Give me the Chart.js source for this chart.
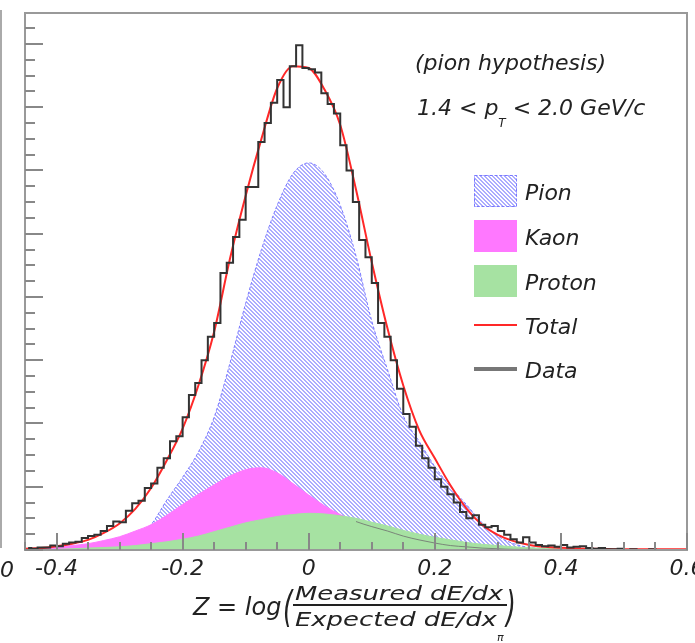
<!DOCTYPE html>
<html lang="en">
<head>
<meta charset="UTF-8">
<title>Z distribution - pion hypothesis</title>
<script src="https://cdn.jsdelivr.net/npm/chart.js"></script>
<style>
  body { margin: 0; background: #fff; }
</style>
</head>
<body>
<canvas id="zplot" width="695" height="643"></canvas>
<script>
  // x grid of the fitted curves (step 0.025 from -0.45 to 0.6)
  const curveX = [];
  for (let i = 0; i <= 42; i++) curveX.push(+(-0.45 + i * 0.025).toFixed(3));

  const pion = [0, 0, 0.005, 0.01, 0.02, 0.04, 0.08, 0.18, 0.40, 0.79, 1.15, 1.55, 2.10, 2.95, 3.90, 4.75,
    5.45, 5.95, 6.12, 5.95, 5.45, 4.65, 3.62, 2.85, 2.12, 1.72, 1.32, 1.00, 0.72, 0.43, 0.22, 0.10,
    0.04, 0.02, 0.01, 0, 0, 0, 0, 0, 0, 0, 0];
  const kaon = [0.01, 0.02, 0.045, 0.07, 0.10, 0.15, 0.21, 0.30, 0.40, 0.55, 0.72, 0.88, 1.03, 1.17, 1.27, 1.30,
    1.22, 1.05, 0.87, 0.70, 0.56, 0.45, 0.37, 0.30, 0.22, 0.16, 0.11, 0.07, 0.05, 0.03, 0.02, 0.01,
    0.01, 0.005, 0, 0, 0, 0, 0, 0, 0, 0, 0];
  const proton = [0.005, 0.008, 0.01, 0.02, 0.03, 0.04, 0.05, 0.07, 0.10, 0.13, 0.17, 0.22, 0.29, 0.36, 0.43, 0.48,
    0.53, 0.56, 0.58, 0.57, 0.54, 0.50, 0.44, 0.38, 0.31, 0.25, 0.20, 0.16, 0.12, 0.09, 0.07, 0.05,
    0.035, 0.025, 0.015, 0.01, 0.005, 0, 0, 0, 0, 0, 0];
  const total = [0.02, 0.03, 0.06, 0.10, 0.16, 0.27, 0.42, 0.65, 0.98, 1.42, 1.92, 2.60, 3.45, 4.60, 5.60, 6.50,
    7.30, 7.65, 7.62, 7.28, 6.72, 5.70, 4.55, 3.50, 2.60, 1.90, 1.45, 1.02, 0.66, 0.40, 0.24, 0.14,
    0.08, 0.05, 0.035, 0.025, 0.02, 0.015, 0.01, 0.01, 0.01, 0.01, 0.01];

  // measured histogram, 0.01 wide bins starting at -0.45
  const binStart = -0.45, binWidth = 0.01;
  const counts = [0.03, 0.02, 0.04, 0.04, 0.07, 0.06, 0.10, 0.12, 0.13, 0.19,
    0.22, 0.24, 0.30, 0.38, 0.45, 0.44, 0.62, 0.74, 0.78, 0.98,
    1.05, 1.30, 1.45, 1.72, 1.80, 2.10, 2.45, 2.64, 3.00, 3.37,
    3.59, 4.38, 4.54, 4.95, 5.22, 5.74, 5.74, 6.45, 6.75, 7.07,
    7.43, 7.00, 7.65, 7.98, 7.62, 7.60, 7.55, 7.22, 7.05, 6.90,
    6.40, 6.00, 5.50, 4.90, 4.63, 4.22, 3.59, 3.37, 3.00, 2.55,
    2.15, 1.95, 1.65, 1.45, 1.30, 1.12, 1.00, 0.88, 0.75, 0.60,
    0.50, 0.55, 0.40, 0.36, 0.38, 0.30, 0.24, 0.17, 0.12, 0.20,
    0.12, 0.08, 0.06, 0.07, 0.05, 0.08, 0.04, 0.05, 0.06, 0.03,
    0.02, 0.03, 0.01, 0.01, 0.02, 0, 0.01, 0, 0, 0.01,
    0, 0, 0, 0, 0];

  const xTickLabels = [-0.4, -0.2, 0, 0.2, 0.4, 0.6];
  const xMinorStep = 0.05;
  const yMajorStep = 1, yMinorStep = 0.25;

  const textFont = 'italic 22px "DejaVu Sans"';

  function pts(arr) {
    return arr.map((v, i) => ({ x: curveX[i], y: v }));
  }
  const histPts = counts.map((v, i) => ({ x: binStart + (i + 0.5) * binWidth, y: v }));

  // hatched fill for the pion component
  const tile = document.createElement('canvas');
  tile.width = 4; tile.height = 4;
  const tc = tile.getContext('2d');
  tc.fillStyle = '#fff';
  tc.fillRect(0, 0, 4, 4);
  tc.fillStyle = 'rgb(172,172,255)';
  for (let i = 0; i < 4; i++) {
    tc.fillRect(i, i, 1, 1);
    tc.fillRect((i + 1) % 4, i, 1, 1);
  }
  const hatch = tc.createPattern(tile, 'repeat');

  const pionColor = 'rgb(120,120,255)';
  const kaonColor = 'rgb(255,120,255)';
  const protonColor = 'rgb(166,226,162)';
  const totalColor = 'rgb(255,40,40)';
  const dataColor = '#333';

  const rootFrame = {
    id: 'rootFrame',
    afterDatasetsDraw(chart) {
      const ctx = chart.ctx;
      const a = chart.chartArea;
      const xs = chart.scales.x, ys = chart.scales.y;
      ctx.save();
      ctx.strokeStyle = '#999';
      ctx.lineWidth = 2;
      ctx.strokeRect(a.left, a.top, a.right - a.left, a.bottom - a.top);
      ctx.strokeStyle = '#888';
      ctx.beginPath();
      // x ticks, pointing up into the frame
      for (let v = -0.45; v <= 0.6001; v += xMinorStep) {
        const val = Math.round(v * 100) / 100;
        const major = xTickLabels.some(t => Math.abs(t - val) < 1e-6);
        const px = Math.round(xs.getPixelForValue(val));
        ctx.moveTo(px, a.bottom);
        ctx.lineTo(px, a.bottom - (major ? 17 : 8));
      }
      // y ticks, pointing right into the frame
      for (let v = 0; v <= ys.max + 1e-6; v += yMinorStep) {
        const major = Math.abs(v / yMajorStep - Math.round(v / yMajorStep)) < 1e-6;
        const py = Math.round(ys.getPixelForValue(v));
        ctx.moveTo(a.left, py);
        ctx.lineTo(a.left + (major ? 18 : 10), py);
      }
      ctx.stroke();
      // edge of the neighbouring pad
      ctx.strokeStyle = '#aaa';
      ctx.beginPath();
      ctx.moveTo(1, 10);
      ctx.lineTo(1, 548);
      ctx.stroke();
      ctx.restore();
    },
    afterDraw(chart) {
      const ctx = chart.ctx;
      ctx.save();
      ctx.fillStyle = '#222';
      ctx.font = textFont;
      ctx.textBaseline = 'alphabetic';
      ctx.textAlign = 'left';

      // y axis zero label of the left pad
      ctx.fillText('0', 0, 577);

      // annotations
      ctx.fillText('(pion hypothesis)', 415, 70);
      let x = 417;
      ctx.fillText('1.4 < p', x, 115);
      x += ctx.measureText('1.4 < p').width;
      ctx.font = 'italic 12px "DejaVu Sans"';
      ctx.fillText('T', x, 127);
      x += ctx.measureText('T').width;
      ctx.font = textFont;
      ctx.fillText(' < 2.0 GeV/c', x, 115);

      // legend
      const ds = chart.data.datasets;
      const find = l => ds.find(d => d.label === l);
      const rows = [
        { label: 'Pion', kind: 'box', y: 175 },
        { label: 'Kaon', kind: 'box', y: 220 },
        { label: 'Proton', kind: 'box', y: 265 },
        { label: 'Total', kind: 'line', y: 325, w: 2 },
        { label: 'Data', kind: 'line', y: 369, w: 4 }
      ];
      rows.forEach(r => {
        const d = find(r.label);
        if (r.kind === 'box') {
          ctx.fillStyle = d.backgroundColor;
          ctx.fillRect(474, r.y, 43, 32);
          if (d.borderDash) {
            ctx.strokeStyle = d.borderColor;
            ctx.lineWidth = 1;
            ctx.setLineDash([3, 2]);
            ctx.strokeRect(474.5, r.y + 0.5, 42, 31);
            ctx.setLineDash([]);
          }
          ctx.fillStyle = '#222';
          ctx.fillText(r.label, 525, r.y + 25);
        } else {
          ctx.strokeStyle = r.label === 'Data' ? '#777' : d.borderColor;
          ctx.lineWidth = r.w;
          ctx.beginPath();
          ctx.moveTo(474, r.y);
          ctx.lineTo(517, r.y);
          ctx.stroke();
          ctx.fillStyle = '#222';
          ctx.fillText(r.label, 525, r.y + 9);
        }
      });

      // x axis title: Z = log( Measured dE/dx / Expected dE/dx_pi )
      ctx.fillStyle = '#222';
      ctx.font = 'italic 24px "DejaVu Sans"';
      ctx.fillText('Z = log', 193, 615);
      const big = (ch, px) => {
        ctx.save();
        ctx.translate(px, 622);
        ctx.scale(0.6, 1);
        ctx.font = 'italic 42px "DejaVu Sans"';
        ctx.fillText(ch, 0, 0);
        ctx.restore();
      };
      big('(', 283);
      const stretched = (txt, px, py) => {
        ctx.save();
        ctx.translate(px, py);
        ctx.scale(1.36, 1);
        ctx.font = 'italic 19px "DejaVu Sans"';
        ctx.fillText(txt, 0, 0);
        ctx.restore();
      };
      stretched('Measured dE/dx', 295, 600);
      stretched('Expected dE/dx', 295, 626);
      ctx.font = 'italic 11px "DejaVu Sans"';
      ctx.fillText('\u03c0', 497, 641);
      ctx.fillRect(293, 604, 214, 2);
      big(')', 506);
      ctx.restore();
    }
  };

  new Chart(document.getElementById('zplot'), {
    type: 'line',
    data: {
      datasets: [
        {
          label: 'Data',
          data: histPts,
          stepped: 'middle',
          borderColor: dataColor,
          borderWidth: 2,
          pointRadius: 0,
          fill: false
        },
        {
          label: 'Total',
          data: pts(total),
          borderColor: totalColor,
          borderWidth: 2,
          pointRadius: 0,
          cubicInterpolationMode: 'monotone',
          fill: false
        },
        {
          label: 'kaon line',
          data: pts(kaon),
          borderWidth: 1,
          pointRadius: 0,
          cubicInterpolationMode: 'monotone',
          fill: false,
          segment: {
            borderColor: c => (kaon[c.p0DataIndex] < proton[c.p0DataIndex] && kaon[c.p1DataIndex] <= proton[c.p1DataIndex])
              ? 'rgba(110,110,110,0.8)' : 'rgba(0,0,0,0)'
          }
        },
        {
          label: 'Proton',
          data: pts(proton),
          borderColor: protonColor,
          backgroundColor: protonColor,
          borderWidth: 1,
          pointRadius: 0,
          cubicInterpolationMode: 'monotone',
          fill: 'origin'
        },
        {
          label: 'Kaon',
          data: pts(kaon),
          borderColor: kaonColor,
          backgroundColor: kaonColor,
          borderWidth: 1,
          pointRadius: 0,
          cubicInterpolationMode: 'monotone',
          fill: 'origin'
        },
        {
          label: 'Pion',
          data: pts(pion),
          borderColor: pionColor,
          borderDash: [3, 2],
          backgroundColor: hatch,
          borderWidth: 1,
          pointRadius: 0,
          cubicInterpolationMode: 'monotone',
          fill: 'origin'
        }
      ]
    },
    options: {
      responsive: false,
      animation: false,
      layout: { padding: { left: 25, right: 8, top: 13, bottom: 0 } },
      plugins: {
        legend: { display: false },
        tooltip: { enabled: false }
      },
      scales: {
        x: {
          type: 'linear',
          min: -0.45,
          max: 0.6,
          grid: { display: false, drawTicks: false },
          border: { display: false },
          afterBuildTicks: s => { s.ticks = xTickLabels.map(v => ({ value: v })); },
          afterFit: s => { s.height = 93; s.paddingLeft = 0; s.paddingRight = 0; },
          ticks: {
            autoSkip: false,
            maxRotation: 0,
            padding: 6,
            color: '#222',
            font: { family: 'DejaVu Sans', size: 22, style: 'italic' },
            callback: v => (v === 0 ? '0' : v.toFixed(1))
          }
        },
        y: {
          display: false,
          min: 0,
          max: 8.49
        }
      }
    },
    plugins: [rootFrame]
  });
</script>
</body>
</html>
